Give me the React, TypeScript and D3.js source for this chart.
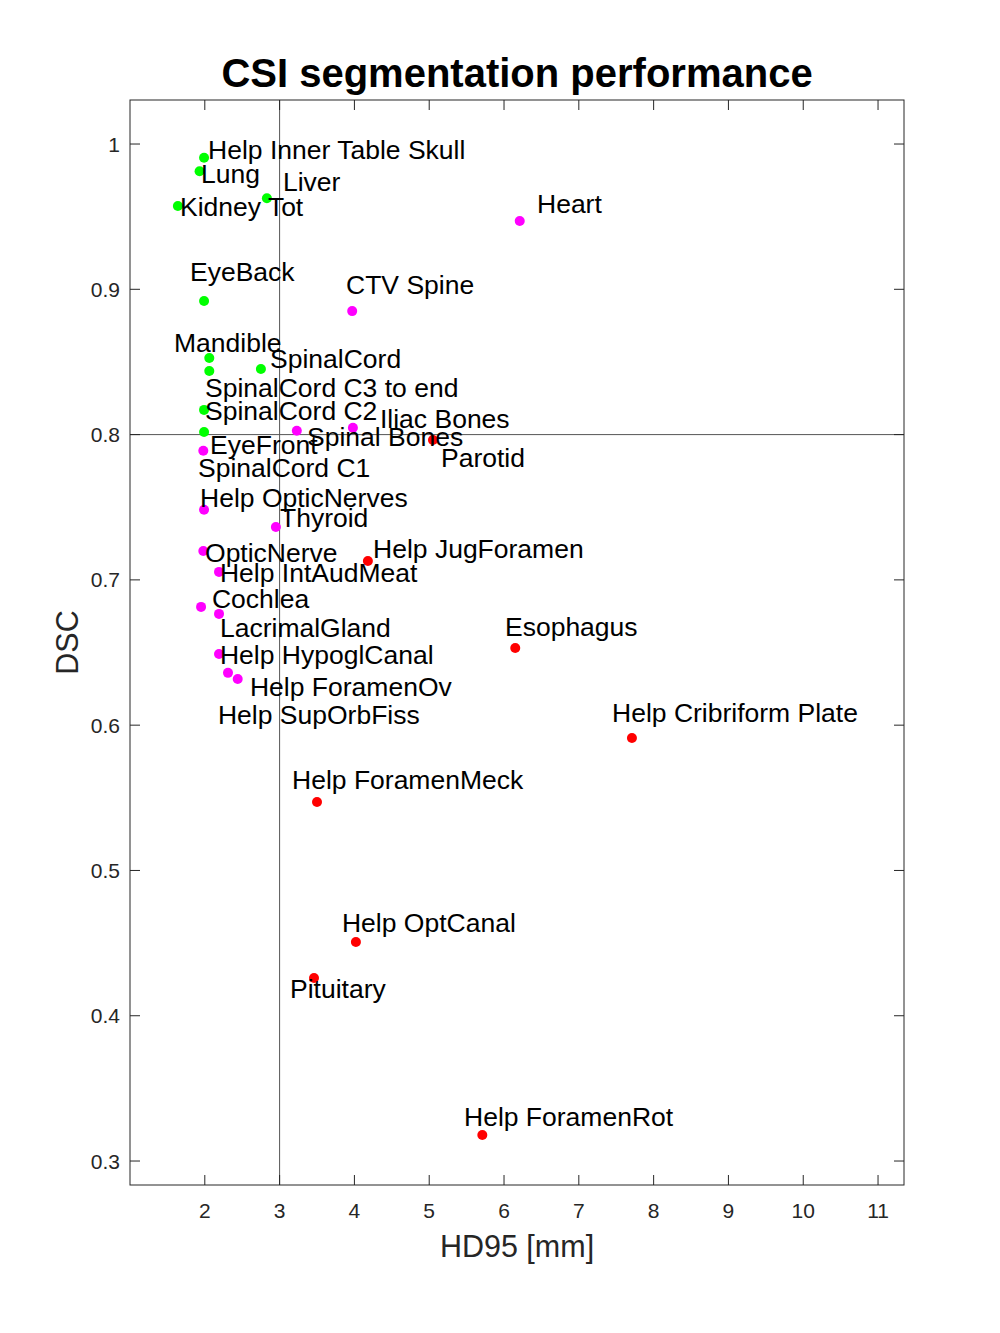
import React from "react";
import * as d3 from "d3";

const organs = [
  "Help Inner Table Skull", "Lung", "Liver", "Kidney Tot", "EyeBack", "Mandible",
  "SpinalCord C3 to end", "SpinalCord", "SpinalCord C2", "SpinalCord C1",
  "Heart", "CTV Spine", "EyeFront", "Spinal Bones", "Iliac Bones", "Help OpticNerves",
  "Thyroid", "OpticNerve", "Help IntAudMeat", "Cochlea", "LacrimalGland",
  "Help HypoglCanal", "Help SupOrbFiss", "Help ForamenOv",
  "Parotid", "Help JugForamen", "Esophagus", "Help Cribriform Plate",
  "Help ForamenMeck", "Help OptCanal", "Pituitary", "Help ForamenRot",
];

const hd95 = [
  1.99, 1.93, 2.83, 1.64, 1.99, 2.06,
  2.06, 2.75, 1.99, 1.99,
  6.21, 3.97, 1.98, 3.23, 3.98, 1.99,
  2.95, 1.98, 2.19, 1.95, 2.19,
  2.19, 2.31, 2.44,
  5.05, 4.18, 6.15, 7.71,
  3.5, 4.02, 3.46, 5.71,
];

const dsc = [
  0.9905, 0.9813, 0.9627, 0.9574, 0.892, 0.8527,
  0.8438, 0.8452, 0.817, 0.8018,
  0.947, 0.885, 0.7889, 0.8027, 0.8047, 0.7483,
  0.7364, 0.7199, 0.7055, 0.6814, 0.6766,
  0.649, 0.636, 0.6318,
  0.7963, 0.713, 0.6531, 0.5912,
  0.5471, 0.4508, 0.426, 0.3179,
];

// label anchor positions in data units (text start, baseline)
const labelX = [
  2.043, 1.949, 3.045, 1.668, 1.802, 1.588,
  2.003, 2.872, 2.003, 1.909,
  6.441, 3.888, 2.07, 3.366, 4.342, 1.936,
  3.005, 2.003, 2.203, 2.096, 2.203,
  2.203, 2.176, 2.604,
  5.158, 4.249, 6.013, 7.444,
  3.166, 3.834, 3.139, 5.465,
];

const labelY = [
  0.9897, 0.9732, 0.9677, 0.9505, 0.9058, 0.8569,
  0.8259, 0.8459, 0.8101, 0.7709,
  0.9526, 0.8968, 0.7867, 0.7922, 0.8046, 0.7502,
  0.7364, 0.7123, 0.6986, 0.6807, 0.6607,
  0.6421, 0.6008, 0.6201,
  0.7778, 0.7151, 0.6614, 0.6022,
  0.5561, 0.4576, 0.4122, 0.3241,
];

const xTicks = [2, 3, 4, 5, 6, 7, 8, 9, 10, 11];
const yTicks = [0.3, 0.4, 0.5, 0.6, 0.7, 0.8, 0.9, 1];
const xDomain = [1, 11.347];
const yDomain = [0.2835, 1.0303];
const hdThreshold = 3;
const dscThreshold = 0.8;

const FONT = "'Liberation Sans', Arial, Helvetica, sans-serif";

export default function App() {
  const left = 130, right = 904, top = 100, bottom = 1185;
  const x = d3.scaleLinear().domain(xDomain).range([left, right]);
  const y = d3.scaleLinear().domain(yDomain).range([bottom, top]);
  const tickLen = 10;
  const axisColor = "#262626";

  const colorOf = (h: number, d: number) => {
    const goodH = h < hdThreshold;
    const goodD = d > dscThreshold;
    if (goodH && goodD) return "#00ff00";
    if (!goodH && !goodD) return "#ff0000";
    return "#ff00ff";
  };

  return (
    <svg
      width={1000}
      height={1333}
      style={{ position: "absolute", left: 0, top: 0, background: "#fff" }}
      fontFamily={FONT}
    >
      <rect x={0} y={0} width={1000} height={1333} fill="#fff" />
      {/* crosshair */}
      <line x1={x(hdThreshold)} x2={x(hdThreshold)} y1={top} y2={bottom} stroke="#555" strokeWidth={1} />
      <line x1={left} x2={right} y1={y(dscThreshold)} y2={y(dscThreshold)} stroke="#555" strokeWidth={1} />

      {/* points */}
      {organs.map((o, i) => (
        <circle key={"p" + i} cx={x(hd95[i])} cy={y(dsc[i])} r={5} fill={colorOf(hd95[i], dsc[i])} />
      ))}

      {/* labels */}
      {organs.map((o, i) => (
        <text key={"l" + i} x={x(labelX[i])} y={y(labelY[i])} fontSize={26.5} fill="#000">
          {o}
        </text>
      ))}

      {/* box */}
      <rect x={left} y={top} width={right - left} height={bottom - top} fill="none" stroke={axisColor} strokeWidth={1} />

      {/* x ticks */}
      {xTicks.map((t) => (
        <g key={"xt" + t}>
          <line x1={x(t)} x2={x(t)} y1={bottom} y2={bottom - tickLen} stroke={axisColor} />
          <line x1={x(t)} x2={x(t)} y1={top} y2={top + tickLen} stroke={axisColor} />
          <text x={x(t)} y={bottom + 33} textAnchor="middle" fontSize={21} fill={axisColor}>
            {t}
          </text>
        </g>
      ))}

      {/* y ticks */}
      {yTicks.map((t) => (
        <g key={"yt" + t}>
          <line x1={left} x2={left + tickLen} y1={y(t)} y2={y(t)} stroke={axisColor} />
          <line x1={right} x2={right - tickLen} y1={y(t)} y2={y(t)} stroke={axisColor} />
          <text x={left - 10} y={y(t) + 7.5} textAnchor="end" fontSize={21} fill={axisColor}>
            {d3.format("~g")(t)}
          </text>
        </g>
      ))}

      {/* axis labels */}
      <text x={(left + right) / 2} y={1257} textAnchor="middle" fontSize={30.5} fill={axisColor}>
        HD95 [mm]
      </text>
      <text
        transform={`translate(78, ${(top + bottom) / 2}) rotate(-90)`}
        textAnchor="middle"
        fontSize={30.5}
        fill={axisColor}
      >
        DSC
      </text>

      {/* title */}
      <text x={(left + right) / 2} y={87} textAnchor="middle" fontSize={40} fontWeight="bold" fill="#000">
        CSI segmentation performance
      </text>
    </svg>
  );
}
